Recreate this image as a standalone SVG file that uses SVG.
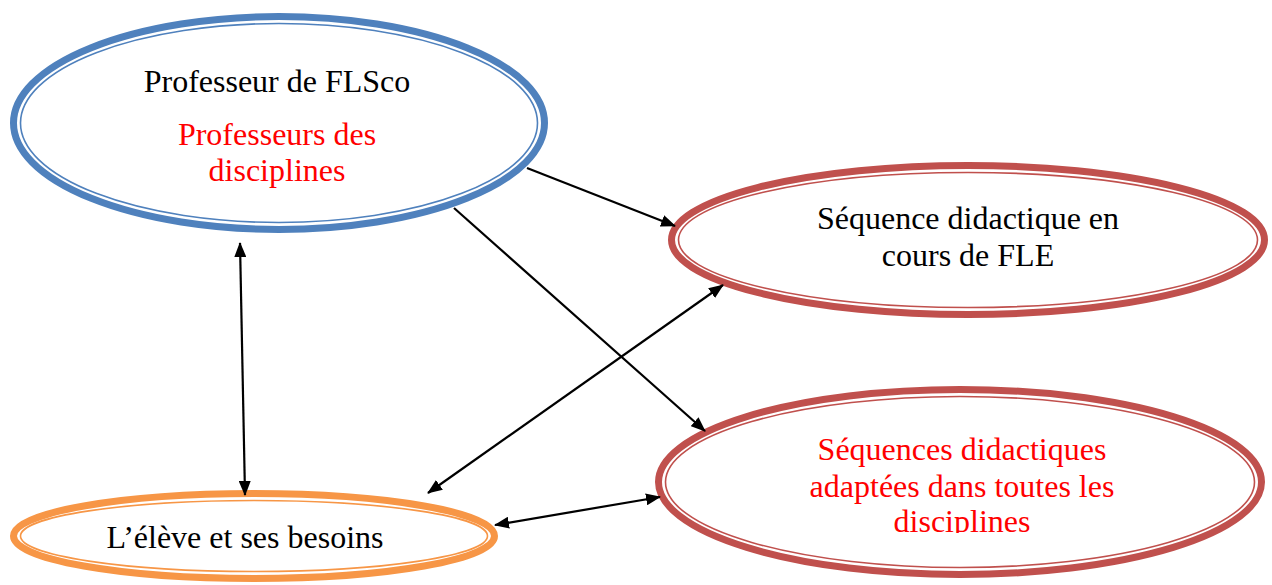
<svg xmlns="http://www.w3.org/2000/svg" width="1272" height="585" viewBox="0 0 1272 585">
<style>
.t{font-family:"Liberation Serif","Times New Roman",serif;font-size:32px;text-anchor:middle}
.blk{fill:#000}
.red{fill:#ff0000}
.thick{fill:none;stroke-width:7}
.thin{fill:none;stroke-width:1.6}
.blue{stroke:#4f81bd}
.rd{stroke:#c0504d}
.or{stroke:#f79646}
.c{stroke:#000;stroke-width:2.2;fill:none}
</style>
<defs>
<marker id="ah" viewBox="0 0 15 12" refX="14" refY="6" markerWidth="15" markerHeight="12" markerUnits="userSpaceOnUse" orient="auto-start-reverse">
<path d="M0,0 L15,6 L0,12 z" fill="#000"/>
</marker>
<clipPath id="clipAd"><rect x="700" y="420" width="520" height="113"/></clipPath>
</defs>
<rect width="1272" height="585" fill="#fff"/>
<g id="node-prof">
<ellipse class="thick blue" cx="279" cy="123" rx="265.5" ry="106.5"/>
<ellipse class="thin blue" cx="279" cy="123" rx="258.5" ry="99.5"/>
<text class="t blk" x="277" y="92">Professeur de FLSco</text>
<text class="t red" x="277" y="145">Professeurs des</text>
<text class="t red" x="277" y="181">disciplines</text>
</g>
<g id="node-fle">
<ellipse class="thick rd" cx="968" cy="240" rx="296.5" ry="74.5"/>
<ellipse class="thin rd" cx="968" cy="240" rx="289.5" ry="67.5"/>
<text class="t blk" x="968" y="229">Séquence didactique en</text>
<text class="t blk" x="968" y="266">cours de FLE</text>
</g>
<g id="node-adapt">
<ellipse class="thick rd" cx="960" cy="482" rx="301.5" ry="92.5"/>
<ellipse class="thin rd" cx="960" cy="482" rx="294.5" ry="85.5"/>
<g clip-path="url(#clipAd)">
<text class="t red" x="962" y="460">Séquences didactiques</text>
<text class="t red" x="962" y="497">adaptées dans toutes les</text>
<text class="t red" x="962" y="532">disciplines</text>
</g>
</g>
<g id="node-eleve">
<ellipse class="thick or" cx="254" cy="536" rx="240.5" ry="42.5"/>
<ellipse class="thin or" cx="254" cy="536" rx="233.5" ry="35.5"/>
<text class="t blk" x="245" y="548">L’élève et ses besoins</text>
</g>
<g id="connectors">
<line class="c" x1="527" y1="168" x2="675" y2="226" marker-end="url(#ah)"/>
<line class="c" x1="454" y1="208" x2="705" y2="431" marker-end="url(#ah)"/>
<line class="c" x1="240" y1="243" x2="245" y2="495" marker-start="url(#ah)" marker-end="url(#ah)"/>
<line class="c" x1="723" y1="285" x2="428" y2="493" marker-start="url(#ah)" marker-end="url(#ah)"/>
<line class="c" x1="495" y1="525" x2="660" y2="497" marker-start="url(#ah)" marker-end="url(#ah)"/>
</g>
</svg>
